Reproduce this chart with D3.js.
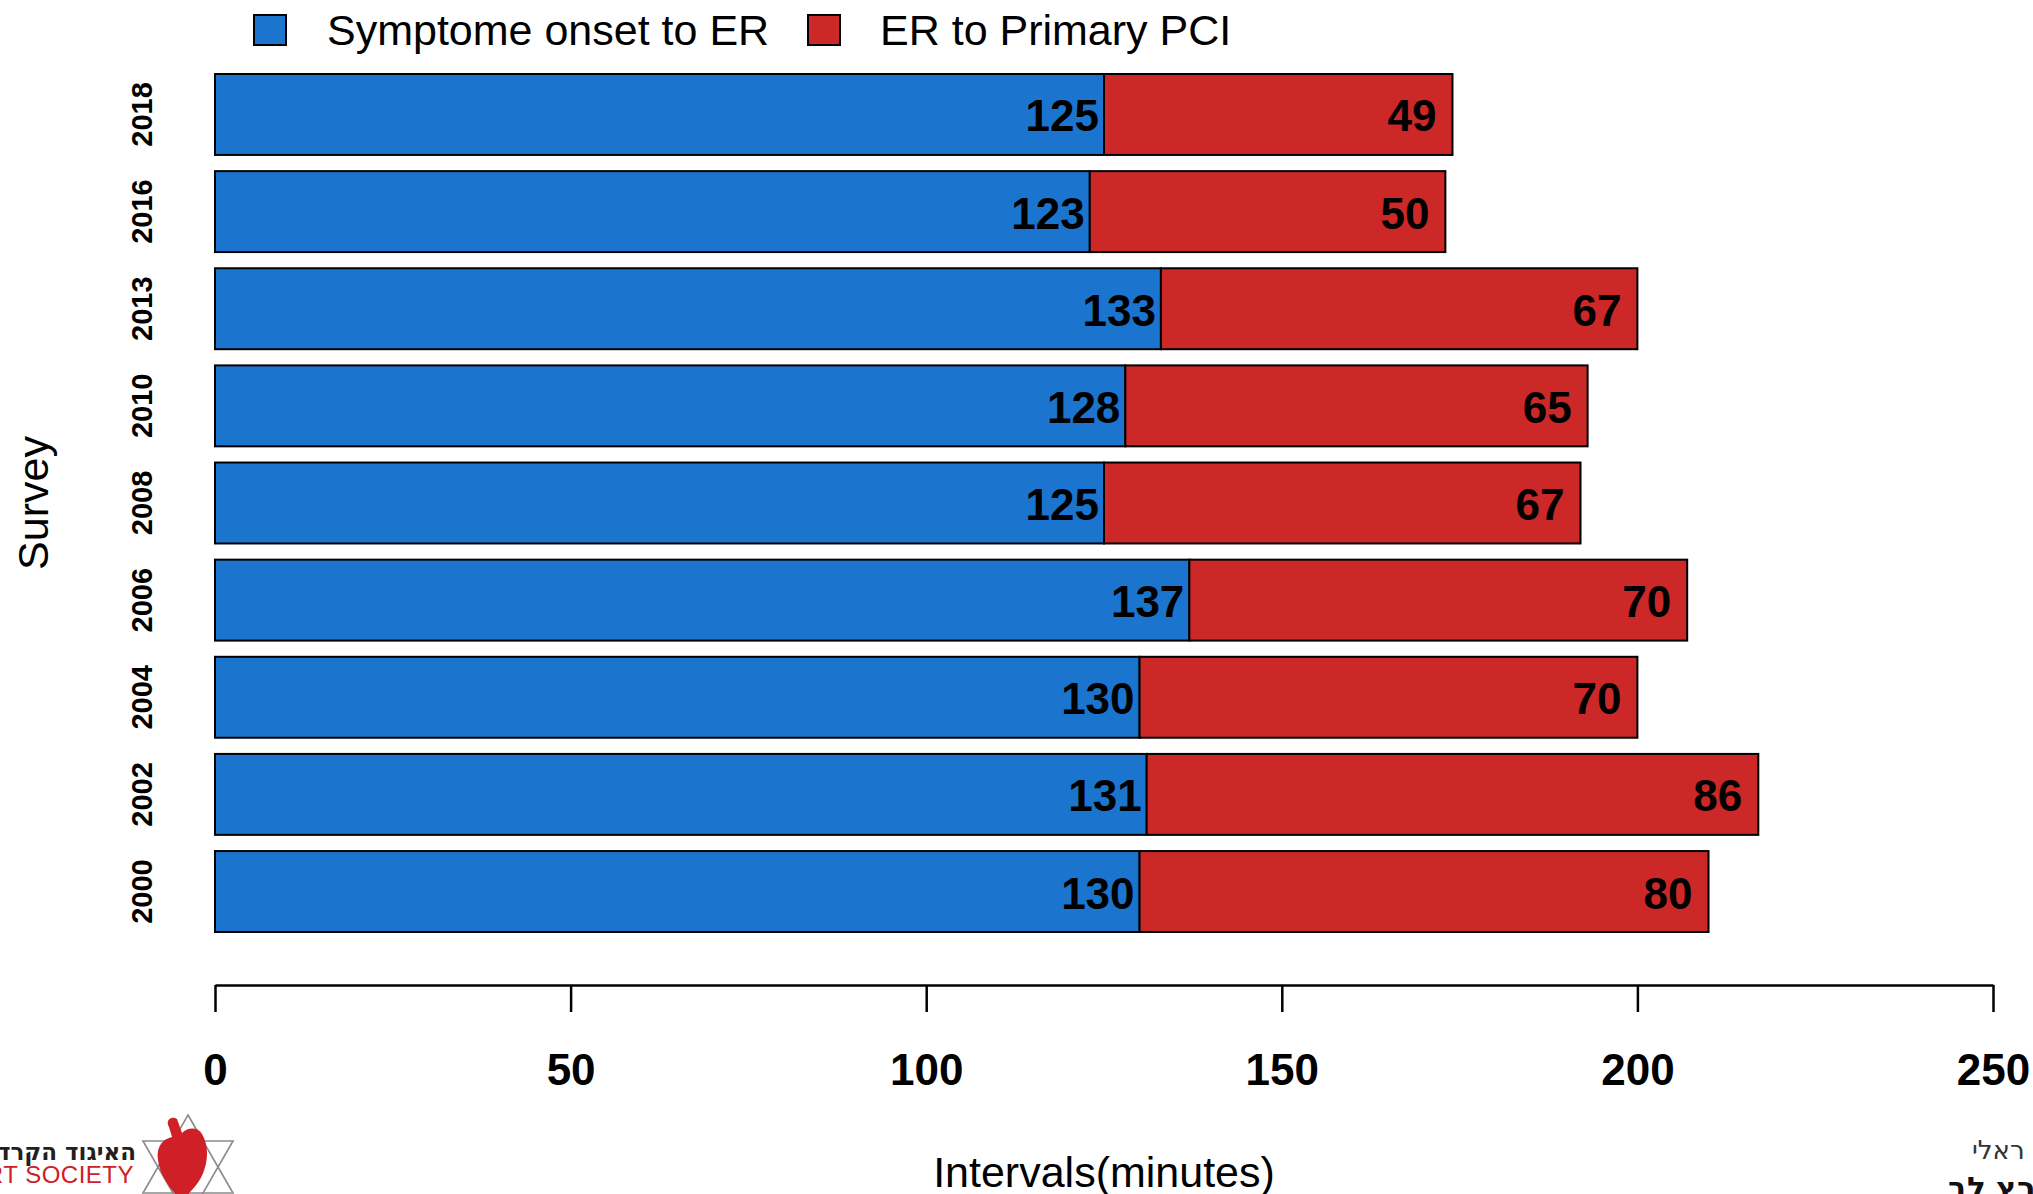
<!DOCTYPE html>
<html>
<head>
<meta charset="utf-8">
<script src="https://cdn.jsdelivr.net/npm/d3@7"></script>
<style>
  html, body { margin: 0; padding: 0; background: #fff; }
  svg { display: block; font-family: "Liberation Sans", Arial, sans-serif; }
</style>
</head>
<body>
<svg id="chart" width="2033" height="1194"></svg>
<script>
// Survey years and the two stacked time intervals (minutes)
const surveys = ["2000", "2002", "2004", "2006", "2008", "2010", "2013", "2016", "2018"];
const onsetToER = [130, 131, 130, 137, 125, 128, 133, 123, 125];
const erToPCI = [80, 86, 70, 70, 67, 65, 67, 50, 49];
const xTicks = [0, 50, 100, 150, 200, 250];
const seriesNames = ["Symptome onset to ER", "ER to Primary PCI"];
const seriesColors = ["#1b75cf", "#cc2828"];

const svg = d3.select("#chart");

const x = d3.scaleLinear().domain([0, 250]).range([215, 1993]);
const y = d3.scaleBand()
  .domain(surveys.slice().reverse())
  .range([74, 932])
  .paddingInner(1 / 6)
  .paddingOuter(0);

const rows = surveys.map((s, i) => ({ survey: s, a: onsetToER[i], b: erToPCI[i] }));

// Stacked bars with value labels at the end of each segment
const g = svg.append("g");
rows.forEach(d => {
  const y0 = y(d.survey), bh = y.bandwidth();
  g.append("rect")
    .attr("x", x(0)).attr("y", y0)
    .attr("width", x(d.a) - x(0)).attr("height", bh)
    .attr("fill", seriesColors[0]).attr("stroke", "#000").attr("stroke-width", 2);
  g.append("rect")
    .attr("x", x(d.a)).attr("y", y0)
    .attr("width", x(d.a + d.b) - x(d.a)).attr("height", bh)
    .attr("fill", seriesColors[1]).attr("stroke", "#000").attr("stroke-width", 2);

  const cy = y0 + bh / 2;
  g.append("text")
    .attr("x", x(d.a) - 5).attr("y", cy + 17)
    .attr("text-anchor", "end").attr("font-weight", "bold").attr("font-size", 44)
    .attr("fill", "#000").text(d.a);
  g.append("text")
    .attr("x", x(d.a + d.b) - 16).attr("y", cy + 17)
    .attr("text-anchor", "end").attr("font-weight", "bold").attr("font-size", 44)
    .attr("fill", "#000").text(d.b);
});

// Rotated survey labels
rows.forEach(d => {
  const cy = y(d.survey) + y.bandwidth() / 2;
  svg.append("text")
    .attr("transform", `translate(152,${cy}) rotate(-90)`)
    .attr("text-anchor", "middle")
    .attr("font-weight", "bold").attr("font-size", 29)
    .text(d.survey);
});

// Bottom axis
const axisY = 985;
const ax = svg.append("g")
  .attr("transform", `translate(0,${axisY})`)
  .call(d3.axisBottom(x).tickValues(xTicks).tickSize(27).tickSizeOuter(0));
ax.select(".domain").attr("stroke", "#000").attr("stroke-width", 2.5);
ax.selectAll(".tick line").attr("stroke", "#000").attr("stroke-width", 2.5);
ax.selectAll(".tick text")
  .attr("y", 100).attr("dy", null)
  .attr("font-family", "Liberation Sans, Arial, sans-serif")
  .attr("font-size", 44).attr("font-weight", "bold").attr("fill", "#000");

// Axis titles
svg.append("text")
  .attr("x", (x(0) + x(250)) / 2).attr("y", 1187)
  .attr("text-anchor", "middle").attr("font-size", 43)
  .text("Intervals(minutes)");
svg.append("text")
  .attr("transform", `translate(48,503) rotate(-90)`)
  .attr("text-anchor", "middle").attr("font-size", 43)
  .text("Survey");

// Legend
const legendItems = [
  { sx: 254, tx: 327 },
  { sx: 808, tx: 880 }
];
legendItems.forEach((p, i) => {
  svg.append("rect")
    .attr("x", p.sx).attr("y", 15).attr("width", 32).attr("height", 30)
    .attr("fill", seriesColors[i]).attr("stroke", "#000").attr("stroke-width", 2);
  svg.append("text")
    .attr("x", p.tx).attr("y", 45).attr("font-size", 43)
    .text(seriesNames[i]);
});

// Society emblem (bottom left)
const logo = svg.append("g");
const cx = 188, cyS = 1167, R = 52;
const tri = (up) => {
  const pts = [0, 1, 2].map(k => {
    const ang = (up ? -90 : 90) + k * 120;
    const r = ang * Math.PI / 180;
    return [cx + R * Math.cos(r), cyS + R * Math.sin(r)];
  });
  return "M" + pts.map(p => p.join(",")).join("L") + "Z";
};
logo.append("path").attr("d", tri(true)).attr("fill", "none").attr("stroke", "#8a8a8a").attr("stroke-width", 1.6);
logo.append("path").attr("d", tri(false)).attr("fill", "none").attr("stroke", "#8a8a8a").attr("stroke-width", 1.6);
logo.append("path")
  .attr("d", "M169,1127 C165,1121 171,1115 177,1119 L182,1133 C188,1127 198,1127 202,1134 C210,1147 208,1167 199,1181 C192,1191 186,1197 181,1200 C172,1191 160,1177 158,1160 C156,1148 162,1139 172,1137 Z")
  .attr("fill", "#cf2027");
logo.append("text")
  .attr("x", 136).attr("y", 1160).attr("text-anchor", "end")
  .attr("font-family", "DejaVu Sans, Liberation Sans, sans-serif")
  .attr("font-weight", "bold").attr("font-size", 23).attr("fill", "#231f20")
  .text("האיגוד הקרד");
logo.append("text")
  .attr("x", 134).attr("y", 1183).attr("text-anchor", "end")
  .attr("font-size", 24).attr("letter-spacing", 0.5).attr("fill", "#cf2027")
  .text("RT  SOCIETY");

// Partial caption at bottom right
svg.append("text")
  .attr("x", 1972).attr("y", 1159)
  .attr("font-family", "DejaVu Sans, Liberation Sans, sans-serif")
  .attr("font-size", 26).attr("fill", "#333")
  .text("ראלי");
svg.append("text")
  .attr("x", 1948).attr("y", 1199)
  .attr("font-family", "DejaVu Sans, Liberation Sans, sans-serif")
  .attr("font-weight", "bold").attr("font-size", 31).attr("fill", "#111")
  .text("ורץ לב");
</script>
</body>
</html>
